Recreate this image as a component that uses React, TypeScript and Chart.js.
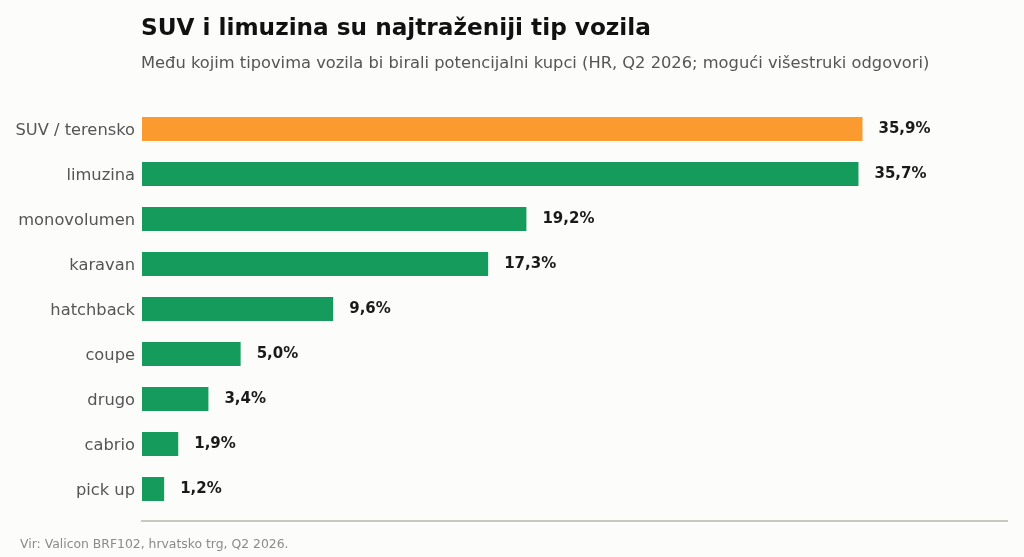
import React, { useRef, useEffect } from 'react';
import { Chart, registerables, Plugin } from 'chart.js';

Chart.register(...registerables);

const categories = ['SUV / terensko', 'limuzina', 'monovolumen', 'karavan', 'hatchback', 'coupe', 'drugo', 'cabrio', 'pick up'];
const shares = [35.9, 35.7, 19.2, 17.3, 9.6, 5.0, 3.4, 1.9, 1.2];
const barColors = ['#FB9A2F', '#159B5B', '#159B5B', '#159B5B', '#159B5B', '#159B5B', '#159B5B', '#159B5B', '#159B5B'];

const title = 'SUV i limuzina su najtraženiji tip vozila';
const subtitle = 'Među kojim tipovima vozila bi birali potencijalni kupci (HR, Q2 2026; mogući višestruki odgovori)';
const source = 'Vir: Valicon BRF102, hrvatsko trg, Q2 2026.';

const FONT = '"DejaVu Sans", sans-serif';

const fmt = (v: number) => v.toFixed(1).replace('.', ',') + '%';

const decor: Plugin<'bar'> = {
    id: 'decor',
    afterDatasetsDraw: (chart) => {
        const ctx = chart.ctx;
        const area = chart.chartArea;
        ctx.save();

        // value labels
        const meta = chart.getDatasetMeta(0);
        ctx.font = `bold 15px ${FONT}`;
        ctx.fillStyle = '#1a1a1a';
        ctx.textAlign = 'left';
        ctx.textBaseline = 'middle';
        meta.data.forEach((el: any, i) => {
            ctx.fillText(fmt(shares[i]), el.x + 15, el.y);
        });

        // bottom rule
        ctx.strokeStyle = '#c8c8c0';
        ctx.lineWidth = 2;
        ctx.beginPath();
        ctx.moveTo(area.left, area.bottom + 9.5);
        ctx.lineTo(area.right, area.bottom + 9.5);
        ctx.stroke();

        // title, subtitle, source
        ctx.fillStyle = '#111111';
        ctx.font = `bold 23.2px ${FONT}`;
        ctx.fillText(title, area.left, 29);
        ctx.fillStyle = '#555555';
        ctx.font = `16.3px ${FONT}`;
        ctx.fillText(subtitle, area.left, 64);
        ctx.fillStyle = '#8a8a8a';
        ctx.font = `12.4px ${FONT}`;
        ctx.fillText(source, 20, 545);
        ctx.restore();
    },
};

const App: React.FC = () => {
    const canvasRef = useRef<HTMLCanvasElement>(null);
    const chartRef = useRef<Chart | null>(null);

    useEffect(() => {
        document.body.style.margin = '0';
        if (!canvasRef.current) return;
        const ctx = canvasRef.current.getContext('2d');
        if (!ctx) return;

        chartRef.current = new Chart(ctx, {
            type: 'bar',
            data: {
                labels: categories,
                datasets: [
                    {
                        data: shares,
                        backgroundColor: barColors,
                        borderColor: 'rgba(255,255,255,0.7)',
                        borderWidth: 1,
                        borderSkipped: false,
                        barPercentage: 0.575,
                        categoryPercentage: 1,
                    },
                ],
            },
            options: {
                indexAxis: 'y',
                animation: false,
                responsive: false,
                maintainAspectRatio: false,
                layout: { padding: { top: 106.5, right: 16, bottom: 45.5, left: 0 } },
                plugins: {
                    legend: { display: false },
                    tooltip: { enabled: false },
                },
                scales: {
                    x: {
                        display: false,
                        min: 0,
                        max: 35.9 * 1.2,
                    },
                    y: {
                        grid: { display: false, drawTicks: false },
                        border: { display: false },
                        ticks: {
                            color: '#555555',
                            font: { family: FONT, size: 16.3 },
                            padding: 6,
                            labelOffset: 1.5,
                        },
                        afterFit: (scale) => {
                            scale.width = 141;
                        },
                    },
                },
            },
            plugins: [decor],
        });

        return () => {
            chartRef.current?.destroy();
        };
    }, []);

    return (
        <div style={{ position: 'absolute', left: 0, top: 0, width: 1024, height: 557, background: '#fcfcfa' }}>
            <canvas ref={canvasRef} width="1024" height="557" style={{ width: 1024, height: 557 }}></canvas>
        </div>
    );
};

export default App;
